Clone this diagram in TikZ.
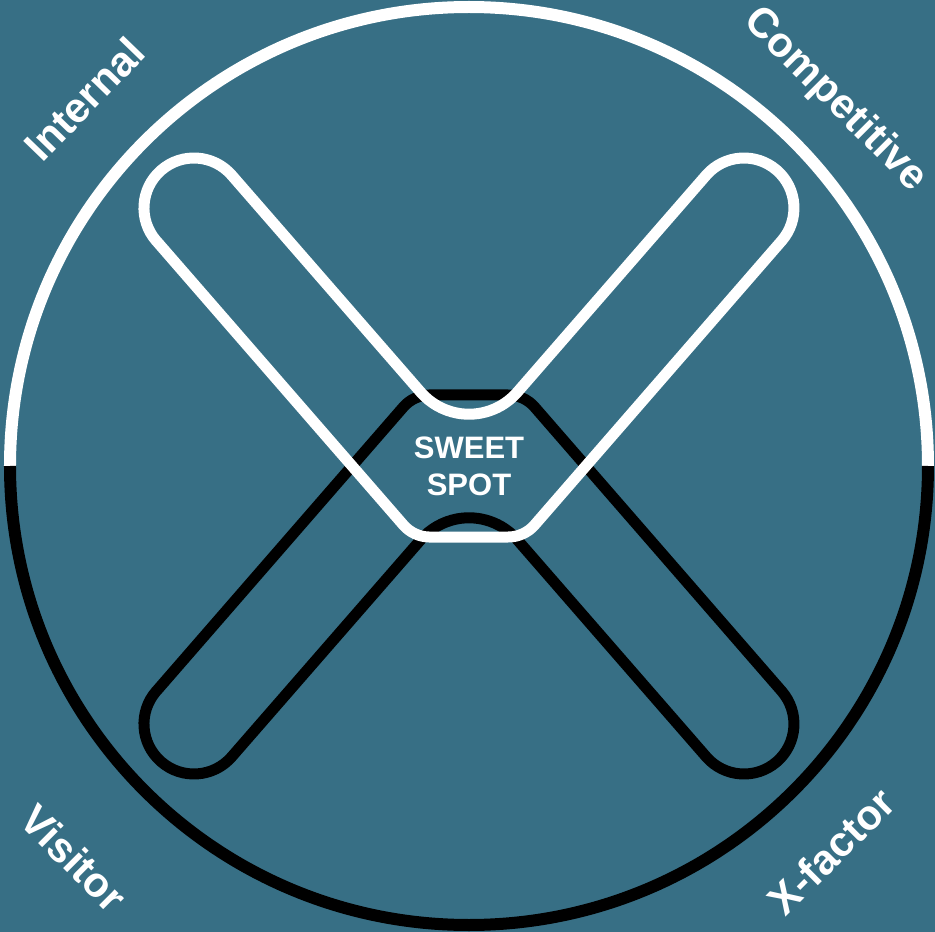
\documentclass[tikz,border=0pt]{standalone}
\usepackage{fontspec}
\setmainfont{Liberation Sans}
\definecolor{bgteal}{RGB}{55,111,133}
% outline of one arm pair, drawn once as is and once mirrored
\newcommand{\armloop}{(-312.7,225.2) -- (-65.6,-59.0) arc[start angle=221,end angle=270,radius=35]
  -- (39.2,-71) arc[start angle=270,end angle=319,radius=35]
  -- (312.7,225.2) arc[start angle=-41,end angle=139,radius=50]
  -- (48.3,73.8) arc[start angle=-41,end angle=-139,radius=64]
  -- (-237.3,290.8) arc[start angle=41,end angle=221,radius=50] -- cycle}

\begin{document}
\begin{tikzpicture}[x=1pt,y=1pt,
  rim/.style={line width=12pt},
  arm/.style={line width=11pt,line join=round},
  lbl/.style={white,inner sep=0pt,font=\bfseries\fontsize{42}{50}\selectfont}]
  \fill[bgteal] (-469,-466) rectangle (466,466);
  \coordinate (O) at (0,0);
  \draw[rim,white] (459,0) arc[start angle=0,end angle=180,radius=459];
  \draw[rim,black] (-459,0) arc[start angle=180,end angle=360,radius=459];
  \draw[arm,black,yscale=-1] \armloop;
  \draw[arm,white] \armloop;
  \node[white,inner sep=0pt,align=center,font=\bfseries\fontsize{31}{37}\selectfont] (sweet) at (O) {SWEET\\SPOT};
  \node[lbl,rotate=46] (internal) at (-385,367) {Internal};
  \node[lbl,rotate=-45] (competitive) at (366,366) {Competitive};
  \node[lbl,rotate=-45] (visitor) at (-395,-392) {Visitor};
  \node[lbl,rotate=45] (xfactor) at (362,-385) {X-factor};
\end{tikzpicture}
\end{document}
